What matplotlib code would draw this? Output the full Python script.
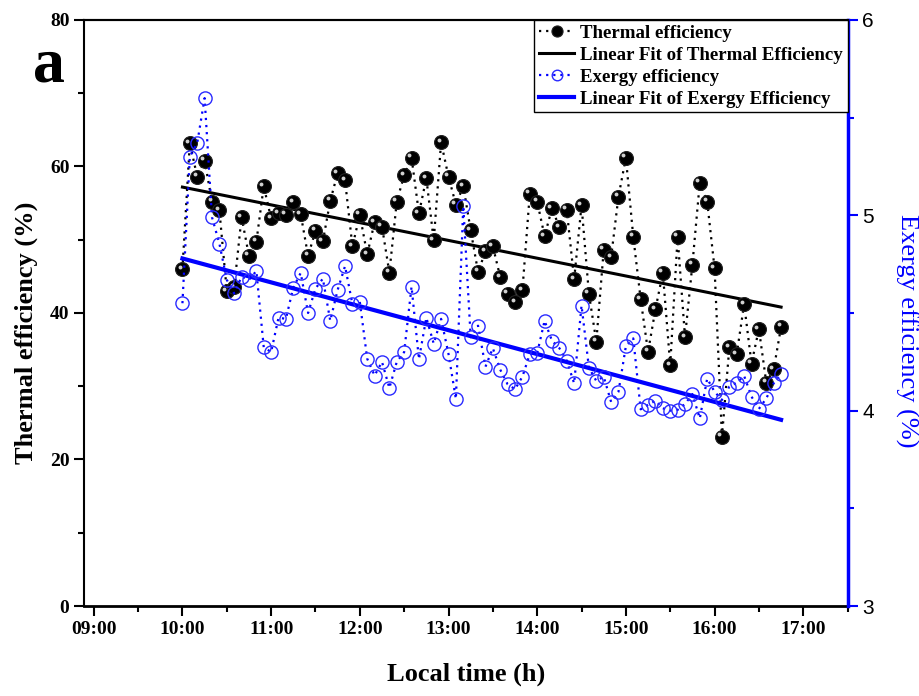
import numpy as np
import pandas as pd
import matplotlib
matplotlib.use("Agg")
import matplotlib.pyplot as plt
from matplotlib.ticker import FixedLocator, MultipleLocator, FuncFormatter
from matplotlib.transforms import ScaledTranslation

# sampling times: every 5 minutes from 10:00 to 16:45
times = pd.date_range("2020-01-01 10:00", "2020-01-01 16:45", freq="5min")
hours = times.hour + times.minute / 60.0

thermal = [46.0, 63.2, 58.6, 60.8, 55.2, 54.0, 43.0, 43.5, 53.1, 47.8,
           49.7, 57.3, 52.9, 53.6, 53.4, 55.1, 53.5, 47.8, 51.2, 49.8,
           55.3, 59.1, 58.1, 49.1, 53.4, 48.0, 52.4, 51.8, 45.5, 55.2,
           58.8, 61.2, 53.6, 58.4, 49.9, 63.3, 58.6, 54.8, 57.3, 51.3,
           45.6, 48.4, 49.1, 44.9, 42.6, 41.5, 43.1, 56.3, 55.2, 50.5,
           54.3, 51.7, 54.1, 44.6, 54.7, 42.6, 36.1, 48.6, 47.6, 55.9,
           61.2, 50.4, 41.9, 34.7, 40.5, 45.5, 32.9, 50.4, 36.7, 46.6,
           57.8, 55.2, 46.1, 23.1, 35.3, 34.4, 41.2, 33.1, 37.8, 30.5,
           32.3, 38.1]

exergy = [4.55, 5.30, 5.37, 5.60, 4.99, 4.855, 4.67, 4.60, 4.686, 4.67,
          4.715, 4.325, 4.30, 4.476, 4.47, 4.63, 4.705, 4.50, 4.625, 4.676,
          4.46, 4.618, 4.74, 4.545, 4.557, 4.266, 4.18, 4.25, 4.116, 4.25,
          4.30, 4.635, 4.263, 4.476, 4.343, 4.47, 4.29, 4.06, 5.048, 4.376,
          4.435, 4.225, 4.32, 4.21, 4.135, 4.11, 4.174, 4.29, 4.295, 4.46,
          4.358, 4.32, 4.256, 4.14, 4.538, 4.22, 4.152, 4.174, 4.045, 4.097,
          4.33, 4.37, 4.007, 4.03, 4.051, 4.012, 4.0, 4.004, 4.034, 4.085,
          3.96, 4.164, 4.097, 4.055, 4.123, 4.143, 4.178, 4.072, 4.009, 4.063,
          4.14, 4.19]

hour_ticks = [9, 10, 11, 12, 13, 14, 15, 16, 17]

SERIF = ["Liberation Serif", "DejaVu Serif"]
SANS = ["Liberation Sans", "DejaVu Sans"]


def main():
    plt.rcParams["font.family"] = SERIF
    plt.rcParams["font.weight"] = "bold"

    fig = plt.figure(figsize=(9.19, 6.96), dpi=100)
    ax = fig.add_axes([0.0914, 0.1293, 0.8309, 0.842])
    ax2 = ax.twinx()

    x = np.asarray(hours, dtype=float)
    th = np.asarray(thermal)
    ex = np.asarray(exergy)

    # thermal efficiency
    ax.plot(x, th, linestyle=(0, (1, 2.2)), color="black", lw=1.6,
            marker="o", ms=10, mfc="black", mec="#222222", mew=0.8,
            label="Thermal efficiency", zorder=3)
    hl = ax.transData + ScaledTranslation(-1.8 / 72, 1.8 / 72, fig.dpi_scale_trans)
    ax.plot(x, th, "o", ms=2.8, color="#d0d0d0", mec="none", transform=hl, zorder=4)

    k, b = np.polyfit(x, th, 1)
    xf = np.array([x[0], x[-1]])
    ax.plot(xf, k * xf + b, color="black", lw=2.2,
            label="Linear Fit of Thermal Efficiency", zorder=2)

    # exergy efficiency (right axis)
    ax2.plot(x, ex, linestyle=(0, (1, 2.2)), color="blue", lw=1.6,
             marker="o", ms=9.5, mfc="none", mec="#2a2aff", mew=1.0,
             label="Exergy efficiency", zorder=3)
    k2, b2 = np.polyfit(x, ex, 1)
    ax2.plot(xf, k2 * xf + b2, color="blue", lw=3,
             label="Linear Fit of Exergy Efficiency", zorder=2)

    # axes limits and ticks
    ax.set_xlim(8.89, 17.5)
    ax.set_ylim(0, 80)
    ax2.set_ylim(3, 6)

    ax.xaxis.set_major_locator(FixedLocator(hour_ticks))
    ax.xaxis.set_minor_locator(MultipleLocator(0.5))
    ax.xaxis.set_major_formatter(FuncFormatter(lambda v, p: "%02d:00" % int(round(v))))
    ax.yaxis.set_major_locator(MultipleLocator(20))
    ax.yaxis.set_minor_locator(MultipleLocator(10))
    ax2.yaxis.set_major_locator(MultipleLocator(1))
    ax2.yaxis.set_minor_locator(MultipleLocator(0.5))

    ax.tick_params(axis="both", which="major", direction="out", length=7, width=1.5,
                   labelsize=14)
    ax.tick_params(axis="both", which="minor", direction="out", length=4, width=1.5)
    ax.tick_params(axis="y", which="both", right=False)
    ax.tick_params(axis="x", which="both", top=False)
    ax2.tick_params(axis="y", which="major", direction="out", length=7, width=1.5,
                    colors="blue", labelcolor="black", labelsize=15)
    ax2.tick_params(axis="y", which="minor", direction="out", length=4, width=1.5,
                    colors="blue")
    for lab in ax2.get_yticklabels():
        lab.set_family(SANS)
        lab.set_fontweight("normal")

    for sp in ["left", "top", "bottom"]:
        ax.spines[sp].set_linewidth(1.5)
    ax.spines["bottom"].set_linewidth(2)
    ax2.spines["right"].set_color("blue")
    ax2.spines["right"].set_linewidth(2.5)
    ax2.spines["left"].set_visible(False)
    ax2.spines["bottom"].set_visible(False)
    ax2.spines["top"].set_linewidth(1.5)

    ax.set_xlabel("Local time (h)", fontsize=19, fontweight="bold", labelpad=18)
    ax.set_ylabel("Thermal efficiency (%)", fontsize=19, fontweight="bold")
    ax.yaxis.set_label_coords(-0.060, 0.466)
    ax2.set_ylabel("Exergy efficiency (%)", fontsize=19, fontweight="normal",
                   color="blue", rotation=270, va="center")
    ax2.yaxis.set_label_coords(1.077, 0.47)

    fig.text(0.036, 0.883, "a", fontsize=46, fontweight="bold", family=SERIF)

    h1, l1 = ax.get_legend_handles_labels()
    h2, l2 = ax2.get_legend_handles_labels()
    leg = ax2.legend(h1 + h2, l1 + l2, loc="upper right", bbox_to_anchor=(1, 1),
                     borderaxespad=0, prop={"weight": "bold", "size": 13.6},
                     frameon=True, fancybox=False, framealpha=1, edgecolor="black",
                     handlelength=1.9, handletextpad=0.3, borderpad=0.25,
                     labelspacing=0.25, markerscale=0.8)
    leg.get_frame().set_linewidth(1.0)

    fig.savefig("out.png", dpi=100, facecolor="white")


if __name__ == "__main__":
    main()
